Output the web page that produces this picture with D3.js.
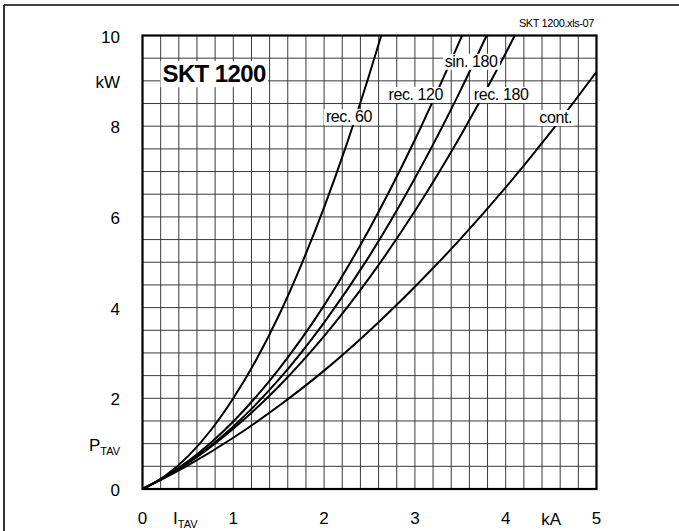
<!DOCTYPE html>
<html>
<head>
<meta charset="utf-8">
<script src="https://cdn.jsdelivr.net/npm/d3@7"></script>
<style>
  body { margin: 0; background: #fff; }
  svg { display: block; font-family: "Liberation Sans", Arial, sans-serif; }
</style>
</head>
<body>
<div id="chart"></div>
<script>
// I_TAV in kA, P_TAV in kW
const xTicks = [0, 1, 2, 3, 4, 5];
const yTicks = [0, 2, 4, 6, 8, 10];

const rec60I = [0, 0.25, 0.5, 0.75, 1, 1.25, 1.5, 1.75, 2, 2.25, 2.5, 2.63];
const rec60P = [0, 0.29, 0.72, 1.29, 2.0, 2.84, 3.82, 4.95, 6.21, 7.61, 9.15, 10.0];

const rec120I = [0, 0.25, 0.5, 1, 1.5, 2, 2.5, 3, 3.52];
const rec120P = [0, 0.27, 0.61, 1.49, 2.64, 4.05, 5.74, 7.7, 10.0];

const sin180I = [0, 0.25, 0.5, 1, 1.5, 2, 2.5, 3, 3.5, 3.79];
const sin180P = [0, 0.26, 0.58, 1.38, 2.41, 3.67, 5.14, 6.85, 8.78, 10.0];

const rec180I = [0, 0.25, 0.5, 1, 1.5, 2, 2.5, 3, 3.5, 4, 4.1];
const rec180P = [0, 0.27, 0.57, 1.33, 2.26, 3.37, 4.66, 6.13, 7.78, 9.61, 10.0];

const contI = [0, 0.25, 0.5, 1, 1.5, 2, 2.5, 3, 3.5, 4, 4.5, 5];
const contP = [0, 0.25, 0.52, 1.13, 1.83, 2.61, 3.49, 4.46, 5.51, 6.65, 7.88, 9.2];

const seriesNames = ["rec. 60", "rec. 120", "sin. 180", "rec. 180", "cont."];
const seriesI = [rec60I, rec120I, sin180I, rec180I, contI];
const seriesP = [rec60P, rec120P, sin180P, rec180P, contP];

const width = 679;
const height = 531;
const margin = { left: 142.5, right: 82.5, top: 35.5, bottom: 42 };

const svg = d3
  .select("#chart")
  .append("svg")
  .attr("width", width)
  .attr("height", height);

// outer frame (top and left only show in the window)
svg.append("line")
  .attr("x1", 4).attr("x2", width).attr("y1", 5).attr("y2", 5)
  .attr("stroke", "#000").attr("stroke-width", 1.6);
svg.append("line")
  .attr("x1", 4).attr("x2", 4).attr("y1", 5).attr("y2", height)
  .attr("stroke", "#000").attr("stroke-width", 1.6);

const x = d3.scaleLinear().domain([0, 5]).range([margin.left, width - margin.right]);
const y = d3.scaleLinear().domain([0, 10]).range([height - margin.bottom, margin.top]);

svg.append("defs").append("clipPath").attr("id", "plot-clip")
  .append("rect")
  .attr("x", x(0)).attr("y", y(10))
  .attr("width", x(5) - x(0)).attr("height", y(0) - y(10));

// grid: 0.2 kA and 0.5 kW
const grid = svg.append("g").attr("stroke", "#3a3a3a").attr("stroke-width", 1);
grid.selectAll(".vg")
  .data(d3.range(1, 25).map((i) => i * 0.2))
  .enter().append("line")
  .attr("x1", (d) => x(d)).attr("x2", (d) => x(d))
  .attr("y1", y(0)).attr("y2", y(10));
grid.selectAll(".hg")
  .data(d3.range(1, 20).map((i) => i * 0.5))
  .enter().append("line")
  .attr("x1", x(0)).attr("x2", x(5))
  .attr("y1", (d) => y(d)).attr("y2", (d) => y(d));

// curves
const line = d3.line()
  .x((d) => x(d[0]))
  .y((d) => y(d[1]))
  .curve(d3.curveMonotoneX);

svg.append("g")
  .attr("clip-path", "url(#plot-clip)")
  .selectAll("path")
  .data(seriesNames.map((n, k) => seriesI[k].map((v, j) => [v, seriesP[k][j]])))
  .enter().append("path")
  .attr("d", line)
  .attr("fill", "none")
  .attr("stroke", "#000")
  .attr("stroke-width", 2);

// plot border
svg.append("rect")
  .attr("x", x(0)).attr("y", y(10))
  .attr("width", x(5) - x(0)).attr("height", y(0) - y(10))
  .attr("fill", "none").attr("stroke", "#000").attr("stroke-width", 2.2);

// text with white box behind
function boxedText(px, py, txt, size, weight, anchor, spacing) {
  const g = svg.append("g");
  const rect = g.append("rect").attr("fill", "#fff");
  const t = g.append("text")
    .attr("x", px).attr("y", py)
    .attr("font-size", size)
    .attr("font-weight", weight)
    .attr("text-anchor", anchor)
    .attr("letter-spacing", spacing)
    .text(txt);
  const b = t.node().getBBox();
  rect.attr("x", b.x - 2).attr("y", b.y + 1).attr("width", b.width + 4).attr("height", b.height - 1);
}

boxedText(x(0.22), y(8.97), "SKT 1200", 24, "bold", "start", -0.6);

const labelAt = [[2.274, 8.09], [3.01, 8.58], [3.62, 9.31], [3.95, 8.58], [4.55, 8.07]];
seriesNames.forEach((n, k) => {
  boxedText(x(labelAt[k][0]), y(labelAt[k][1]), n, 16, "normal", "middle", -0.4);
});

// tick labels
svg.selectAll(".xt")
  .data(xTicks).enter().append("text")
  .attr("x", (d) => x(d)).attr("y", 524)
  .attr("text-anchor", "middle").attr("font-size", 17)
  .text((d) => d);
svg.selectAll(".yt")
  .data(yTicks).enter().append("text")
  .attr("x", 120).attr("y", (d) => y(d) + 7)
  .attr("text-anchor", "end").attr("font-size", 17)
  .text((d) => d);

svg.append("text")
  .attr("x", 120).attr("y", y(9) + 7)
  .attr("text-anchor", "end").attr("font-size", 17)
  .text("kW");
svg.append("text")
  .attr("x", x(4.5)).attr("y", 525)
  .attr("text-anchor", "middle").attr("font-size", 17)
  .text("kA");

const pt = svg.append("text")
  .attr("x", 120).attr("y", y(1) + 7)
  .attr("text-anchor", "end").attr("font-size", 17);
pt.append("tspan").text("P");
pt.append("tspan").attr("font-size", 11).attr("dy", 4).text("TAV");

const it = svg.append("text")
  .attr("x", 173).attr("y", 524)
  .attr("font-size", 17);
it.append("tspan").text("I");
it.append("tspan").attr("font-size", 11).attr("dy", 4).text("TAV");

svg.append("text")
  .attr("x", 594).attr("y", 27)
  .attr("text-anchor", "end").attr("font-size", 11)
  .attr("letter-spacing", -0.4)
  .text("SKT 1200.xls-07");
</script>
</body>
</html>
